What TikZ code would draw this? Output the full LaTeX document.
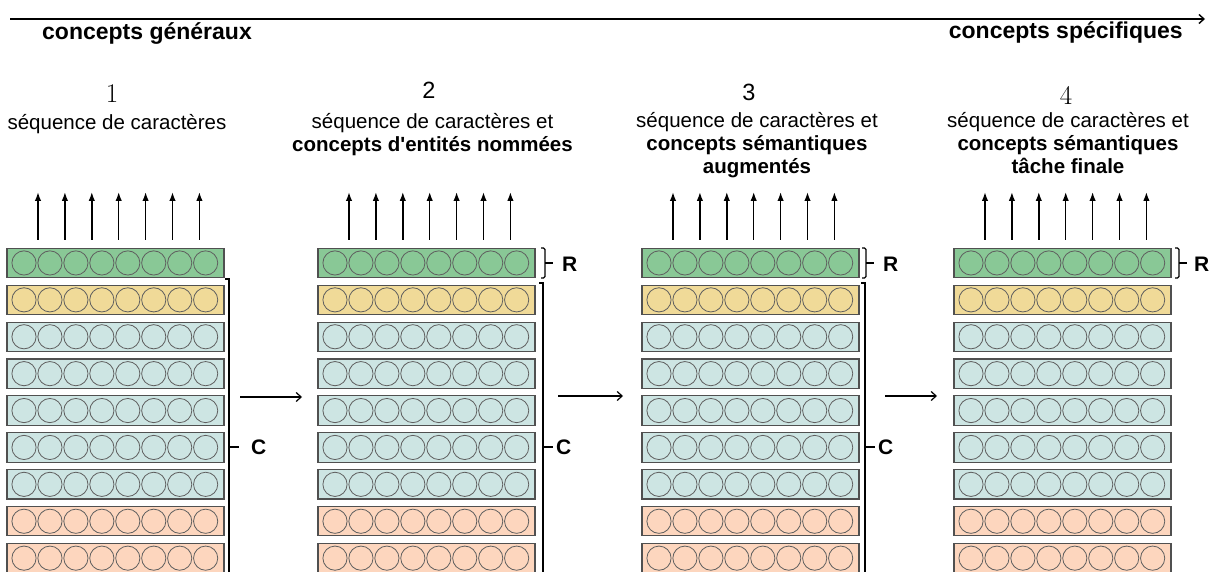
\documentclass[tikz,border=0pt]{standalone}
\usepackage{fontspec}
\newfontfamily\sans{Liberation Sans}
\usetikzlibrary{arrows.meta}
\definecolor{cg}{RGB}{137,200,150}
\definecolor{cy}{RGB}{240,218,152}
\definecolor{cc}{RGB}{205,229,227}
\definecolor{cp}{RGB}{253,214,190}
\definecolor{edge}{RGB}{80,80,80}
\definecolor{ring}{RGB}{95,95,95}
\begin{document}
\begin{tikzpicture}[x=1pt,y=-1pt,
  rowbox/.style={draw=edge,line width=1.1pt,rectangle,minimum width=217pt,minimum height=29.3pt,inner sep=0pt},
  cell/.style={draw=ring,line width=0.8pt},
  uparrow/.style={line width=1.5pt,-{Latex[length=9pt,width=6.5pt]}},
  sidearrow/.style={line width=1.2pt,-{Straight Barb[length=5pt,width=9pt]}},
  toparrow/.style={line width=1.4pt,-{Straight Barb[length=5pt,width=9pt]}},
  brk/.style={line width=1.3pt},
  toplab/.style={font=\sans\bfseries\fontsize{23}{27}\selectfont,inner sep=0pt},
  body/.style={font=\sans\fontsize{20.5}{23}\selectfont,inner sep=0pt,anchor=base},
  bodyb/.style={font=\sans\bfseries\fontsize{20.5}{23}\selectfont,inner sep=0pt,anchor=base},
  numlm/.style={font=\fontsize{27}{30}\selectfont,inner sep=0pt,anchor=base},
  numsf/.style={font=\sans\fontsize{23.5}{27}\selectfont,inner sep=0pt,anchor=base},
  brlab/.style={font=\sans\bfseries\fontsize{21}{24}\selectfont,inner sep=0pt,anchor=west}]
\useasboundingbox (0,0) rectangle (1211,572);
\clip (0,0) rectangle (1211,572);

% top axis
\coordinate (ta) at (10,19);
\coordinate (tb) at (1205,19);
\draw[toparrow] (ta) -- (tb);
\node[toplab,anchor=base west] (gen) at (42,40) {concepts généraux};
\node[toplab,anchor=base east] (spec) at (1183,39) {concepts spécifiques};

% numbers and titles
\node[numlm] (n1) at (112,103) {1};
\node[numsf] (n2) at (429,98.5) {2};
\node[numsf] (n3) at (749,100.7) {3};
\node[numlm] (n4) at (1066,105) {4};

\node[body] (t1a) at (117,130) {séquence de caractères};
\node[body] (t2a) at (432.5,129) {séquence de caractères et};
\node[bodyb] (t2b) at (432.5,152) {concepts d'entités nommées};
\node[body] (t3a) at (757,128) {séquence de caractères et};
\node[bodyb] (t3b) at (757,151) {concepts sémantiques};
\node[bodyb] (t3c) at (757,174) {augmentés};
\node[body] (t4a) at (1068,128) {séquence de caractères et};
\node[bodyb] (t4b) at (1068,151) {concepts sémantiques};
\node[bodyb] (t4c) at (1068,174) {tâche finale};

% stacks
\foreach \s/\L in {1/7,2/318,3/642,4/954}{
  \foreach \i/\c in {0/cg,1/cy,2/cc,3/cc,4/cc,5/cc,6/cc,7/cp,8/cp}{
    \pgfmathsetmacro\T{248.3+36.9*\i}
    \node[rowbox,fill=\c] (s\s r\i) at ({\L+108.5},{\T+14.65}) {};
    \foreach \j in {0,...,7}{
      \draw[cell] ({\L+17+25.95*\j},{\T+14.65}) circle[radius=12.1pt];
    }
  }
  \foreach \k in {0,...,6}{
    \coordinate (s\s b\k) at ({\L+31+26.9*\k},240);
    \coordinate (s\s a\k) at ({\L+31+26.9*\k},192);
    \draw[uparrow] (s\s b\k) -- (s\s a\k);
  }
}

% C brackets
\foreach \n/\X/\Y/\Lx in {1/229/279/251,2/543/283/556,3/865/283/878}{
  \draw[brk] ({\X-4},\Y) -- (\X,\Y) -- (\X,590);
  \coordinate (cb\n) at (\X,447);
  \coordinate (ct\n) at ({\X+10},447);
  \draw[brk] (cb\n) -- (ct\n);
  \node[brlab] (C\n) at (\Lx,447) {C};
}

% R brackets
\foreach \n/\X/\Lx in {2/541/562,3/862/883,4/1175/1194}{
  \draw[brk,rounded corners=1.5pt] (\X,248) -- ({\X+4},248) -- ({\X+4},278) -- (\X,278);
  \coordinate (rb\n) at ({\X+4},263);
  \coordinate (rt\n) at ({\X+12},263);
  \draw[brk] (rb\n) -- (rt\n);
  \node[brlab] (R\n) at (\Lx,264) {R};
}

% arrows between stacks
\coordinate (h1a) at (240,397); \coordinate (h1b) at (302,397);
\coordinate (h2a) at (558,396); \coordinate (h2b) at (623,396);
\coordinate (h3a) at (885,396); \coordinate (h3b) at (937,396);
\draw[sidearrow] (h1a) -- (h1b);
\draw[sidearrow] (h2a) -- (h2b);
\draw[sidearrow] (h3a) -- (h3b);
\end{tikzpicture}
\end{document}
